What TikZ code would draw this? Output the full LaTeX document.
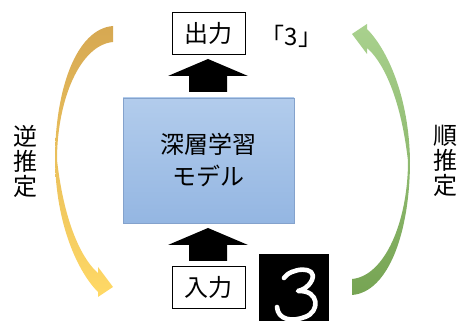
\documentclass[tikz,border=0pt]{standalone}
\usepackage{fontspec}
\setmainfont{Noto Sans CJK JP}
\definecolor{goldtop}{RGB}{214,168,82}
\definecolor{goldbot}{RGB}{255,217,102}
\definecolor{greentop}{RGB}{169,209,142}
\definecolor{greenbot}{RGB}{118,164,83}
\definecolor{bluetop}{RGB}{178,204,236}
\definecolor{bluebot}{RGB}{148,182,226}
\definecolor{blueedge}{RGB}{132,162,204}
\begin{document}
\begin{tikzpicture}[x=1pt,y=-1pt,
  jp/.style={font=\fontsize{24}{25}\selectfont, inner sep=0pt, align=center},
  iobox/.style={jp, draw=black, line width=0.8pt, fill=white, minimum width=73pt, minimum height=42pt},
  modelbox/.style={jp, draw=blueedge, line width=0.6pt, top color=bluetop, bottom color=bluebot, minimum width=171pt, minimum height=125pt},
  blockarrow/.style={fill=black},
  digit/.style={draw=white, line width=4.6pt, line cap=round, line join=round},
]
\useasboundingbox (0,0) rectangle (459,321);

% curved arrows
\shade[top color=goldtop, bottom color=goldbot]
  (113,26) .. controls (76,29) and (55,90) .. (55,160)
  .. controls (56,225) and (78,272) .. (98,292)
  -- (98,297) -- (113,287) -- (98,267) -- (98,273)
  .. controls (85,262) and (65,230) .. (57,160)
  .. controls (57,100) and (80,45) .. (113,42) -- cycle;
\shade[top color=greentop, bottom color=greenbot]
  (352,295) .. controls (389,292) and (410,231) .. (410,161)
  .. controls (409,96) and (387,49) .. (367,29)
  -- (367,24) -- (352,34) -- (367,54) -- (367,48)
  .. controls (380,59) and (400,91) .. (408,161)
  .. controls (408,221) and (385,276) .. (352,279) -- cycle;

% boxes
\node[iobox] (out) at (208.5,33) {出力};
\node[iobox] (in) at (208.5,287) {入力};
\node[modelbox] (model) at (208.5,160.5) {深層学習\\[7pt]モデル};
\node[jp] (label3) at (291.5,36) {「3」};
\node[jp] (inv) at (25,161) {逆\\推\\定};
\node[jp] (fwd) at (445,161) {順\\推\\定};

% block arrows
\fill[blockarrow] (189,92) -- (189,76) -- (168,76) -- (208,59) -- (248,76) -- (227,76) -- (227,92) -- cycle;
\fill[blockarrow] (189,261) -- (189,245) -- (168,245) -- (208,228) -- (248,245) -- (227,245) -- (227,261) -- cycle;

% mnist digit image
\fill[black] (259,254) rectangle (329,321);
\draw[digit] (284,278) .. controls (290,268) and (318,265) .. (312,280)
  .. controls (308,288) and (302,290) .. (298,291)
  .. controls (320,290) and (320,312) .. (305,317)
  .. controls (292,322) and (278,320) .. (277,307);
\end{tikzpicture}
\end{document}
